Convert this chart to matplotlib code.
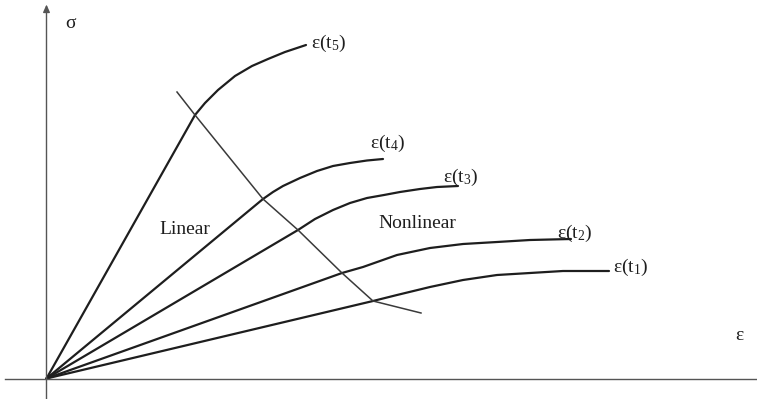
import matplotlib
matplotlib.use("Agg")
import matplotlib.pyplot as plt

plt.rcParams["font.family"] = ["Liberation Serif", "DejaVu Serif"]
plt.rcParams["mathtext.fontset"] = "custom"
plt.rcParams["mathtext.rm"] = "Liberation Serif"
plt.rcParams["mathtext.it"] = "Liberation Serif:italic"

# Stress-strain isochrones (strain, stress) in arbitrary units
eps_t5 = [0, 148.5, 158.5, 171.5, 188.5, 205.5, 221.5, 238.5, 259.5]
sig_t5 = [0, 263.5, 275.5, 288.5, 302.5, 312.5, 319.5, 326.5, 333.5]

eps_t4 = [0, 216.5, 226.5, 236.5, 253.5, 270.5, 286.5, 303.5, 320.5, 336.5]
sig_t4 = [0, 179.5, 186.5, 192.5, 200.5, 207.5, 212.5, 215.5, 218.0, 219.5]

eps_t3 = [0, 251.5, 268.5, 286.5, 303.5, 320.5, 337.5, 353.5, 373.5, 390.5, 411.5]
sig_t3 = [0, 148.5, 159.5, 168.5, 175.5, 180.5, 183.5, 186.5, 189.5, 191.5, 192.5]

eps_t2 = [0, 295.5, 316.5, 350.5, 383.5, 416.5, 450.5, 483.5, 524.5]
sig_t2 = [0, 105.5, 111.5, 123.5, 130.5, 134.5, 136.5, 138.5, 139.5]

eps_t1 = [0, 326.5, 350.5, 383.5, 416.5, 450.5, 483.5, 516.5, 562.5]
sig_t1 = [0, 77.5, 83.5, 91.5, 98.5, 103.5, 105.5, 107.5, 107.5]

# Linear / nonlinear boundary
eps_bound = [130.5, 148.5, 216.5, 251.5, 295.5, 326.5, 374.5]
sig_bound = [286.5, 263.5, 179.5, 148.5, 105.5, 77.5, 65.5]

curve_labels = ["ε(t$_\\mathrm{5}$)", "ε(t$_\\mathrm{4}$)", "ε(t$_\\mathrm{3}$)",
                "ε(t$_\\mathrm{2}$)", "ε(t$_\\mathrm{1}$)"]

fig = plt.figure(figsize=(7.57, 3.99), dpi=100)
ax = fig.add_axes([0, 0, 1, 1])
ax.set_xlim(-46.5, 710.5)
ax.set_ylim(-20.5, 378.5)
ax.axis("off")

ink = "#1e1e1e"
curves = [(eps_t5, sig_t5), (eps_t4, sig_t4), (eps_t3, sig_t3),
          (eps_t2, sig_t2), (eps_t1, sig_t1)]
for e, s in curves:
    ax.plot(e, s, color=ink, lw=1.6, solid_joinstyle="round",
            solid_capstyle="round")

ax.plot(eps_bound, sig_bound, color="#3a3a3a", lw=1.1)

# Axes with arrows
axis_col = "#555555"
ax.plot([-42, 710.5], [0, 0], color=axis_col, lw=1.0)
ax.annotate("", xy=(0, 374), xytext=(0, -21),
            arrowprops=dict(arrowstyle="-|>,head_length=0.45,head_width=0.2",
                            color=axis_col, lw=1.0, shrinkA=0, shrinkB=0))

ax.text(18.5, 355.5, "σ", fontsize=14, ha="left", va="center", color=ink)
ax.text(688.5, 42.5, "ε", fontsize=14, ha="left", va="center", color=ink)

# Curve labels at the end of each isochrone
label_pos = [(264.5, 335.5), (323.5, 235.5), (396.5, 201.5),
             (510.5, 145.5), (566.5, 111.5)]
for txt, (x, y) in zip(curve_labels, label_pos):
    ax.text(x, y, txt, fontsize=14, ha="left", va="center", color=ink)

ax.text(112.5, 148.5, "Linear", fontsize=14, ha="left", va="center", color=ink)
ax.text(331.5, 155.5, "Nonlinear", fontsize=14, ha="left", va="center", color=ink)

fig.savefig("out.png", dpi=100)
